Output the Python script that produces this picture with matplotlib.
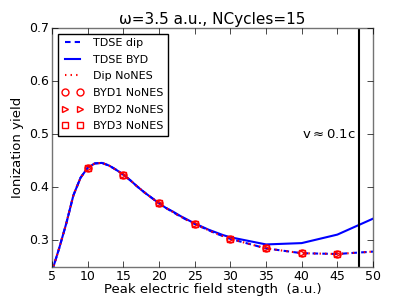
import numpy as np
import matplotlib.pyplot as plt

plt.style.use('classic')
plt.rcParams['mathtext.fontset'] = 'dejavusans'

# campo pico (u.a.) y rendimiento de ionización
campo = [5, 6, 7, 8, 9, 10, 11, 12, 13, 14, 15, 16, 17, 18, 19, 20, 21, 22, 23, 24, 25,
         26, 27, 28, 29, 30, 35, 40, 45, 50]
tdse_dip = [0.242, 0.285, 0.332, 0.385, 0.418, 0.437, 0.445, 0.446, 0.441, 0.433, 0.424,
            0.413, 0.401, 0.390, 0.380, 0.370, 0.361, 0.353, 0.345, 0.338, 0.331,
            0.325, 0.319, 0.313, 0.308, 0.303, 0.285, 0.276, 0.2745, 0.279]
tdse_byd = [0.242, 0.285, 0.332, 0.385, 0.418, 0.437, 0.445, 0.446, 0.441, 0.433, 0.424,
            0.413, 0.401, 0.390, 0.380, 0.370, 0.361, 0.354, 0.346, 0.339, 0.332,
            0.326, 0.320, 0.315, 0.310, 0.306, 0.2925, 0.295, 0.311, 0.341]
dip_nones = tdse_dip

# puntos BYD sin NES
campo_byd = [10, 15, 20, 25, 30, 35, 40, 45]
byd1 = [0.436, 0.423, 0.370, 0.331, 0.303, 0.285, 0.276, 0.2745]
byd2 = [0.436, 0.423, 0.370, 0.331, 0.303, 0.285, 0.276, 0.2745]
byd3 = [0.436, 0.423, 0.370, 0.331, 0.303, 0.285, 0.276, 0.2745]

fig = plt.figure(figsize=(4.15, 2.97), dpi=100, facecolor='white')
ax = fig.add_axes([0.1253, 0.101, 0.7735, 0.8047])

ax.plot(campo, tdse_dip, 'b--', lw=1.5, dashes=(4, 3), label='TDSE dip')
ax.plot(campo, tdse_byd, 'b-', lw=1.5, label='TDSE BYD')
ax.plot(campo, dip_nones, 'r:', lw=1.5, label='Dip NoNES')
ax.plot(campo_byd, byd1, 'o', mec='r', mfc='none', mew=1, ms=5, ls='none', label='BYD1 NoNES')
ax.plot(campo_byd, byd2, '>', mec='r', mfc='none', mew=1, ms=5, ls='none', label='BYD2 NoNES')
ax.plot(campo_byd, byd3, 's', mec='r', mfc='none', mew=1, ms=5, ls='none', label='BYD3 NoNES')

# línea vertical donde v ~ 0.1c
ax.axvline(48, color='k', lw=1.5)
ax.text(47.55, 0.5, r'$\mathrm{v\approx 0.1c}$', ha='right', va='center', fontsize=9.5)

ax.set_xlim(5, 50)
ax.set_ylim(0.25, 0.7)
ax.set_xticks(np.arange(5, 51, 5))
ax.set_yticks([0.3, 0.4, 0.5, 0.6, 0.7])
ax.tick_params(labelsize=9, pad=2)
for s in ax.spines.values():
    s.set_color('0.45')
ax.set_xlabel('Peak electric field stength  (a.u.)', fontsize=9.5)
ax.xaxis.set_label_coords(0.5, -0.068)
ax.set_ylabel('Ionization yield', fontsize=9.5)
ax.yaxis.set_label_coords(-0.087, 0.5)
ax.set_title('ω=3.5 a.u., NCycles=15', fontsize=11, pad=3)
ax.legend(loc='upper left', fontsize=8, numpoints=2, handlelength=1.9,
          handletextpad=0.9, labelspacing=0.6)

fig.savefig('out.png', dpi=100, facecolor='white')
